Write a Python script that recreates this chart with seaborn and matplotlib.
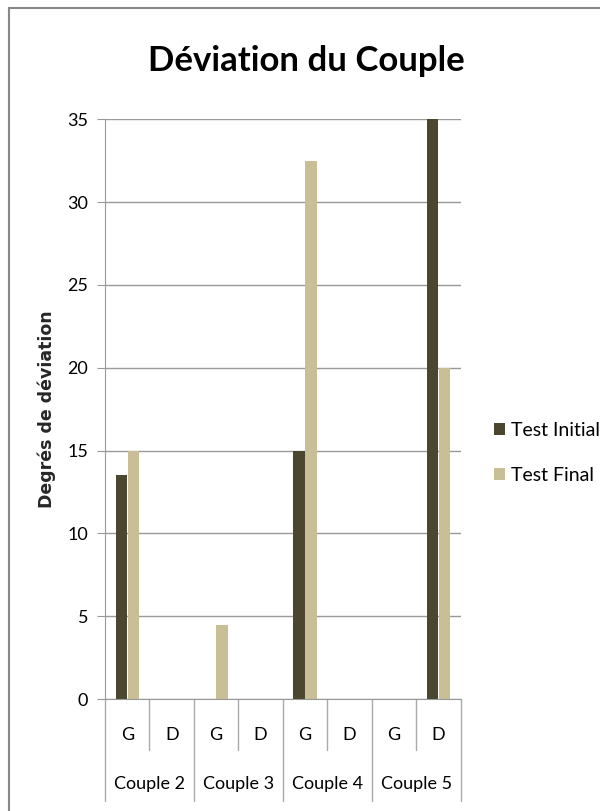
import matplotlib
matplotlib.use("Agg")
import matplotlib.pyplot as plt
import matplotlib.transforms as mtransforms
from matplotlib.patches import Rectangle
import seaborn as sns
import pandas as pd

# chart data
groups = ["Couple 2", "Couple 3", "Couple 4", "Couple 5"]
sides = ["G", "D"]
series = ["Test Initial", "Test Final"]
test_initial = [13.5, 0, 0, 0, 15, 0, 0, 35]
test_final = [15, 0, 4.5, 0, 32.5, 0, 0, 20]
colors = ["#4b4630", "#c8bf97"]

slots = [f"{g} {s}" for g in groups for s in sides]
df = pd.DataFrame({
    "slot": slots * 2,
    "serie": [series[0]] * len(slots) + [series[1]] * len(slots),
    "value": test_initial + test_final,
})

sns.set_style("white")
plt.rcParams["font.family"] = ["Lato", "DejaVu Sans"]
plt.rcParams["text.color"] = "black"
plt.rcParams["ytick.labelcolor"] = "black"

fig = plt.figure(figsize=(6, 8.11), dpi=100)
ax = fig.add_axes([0.175, 0.138, 0.593, 0.715])

sns.barplot(data=df, x="slot", y="value", hue="serie", order=slots,
            hue_order=series, palette=colors, width=0.54, gap=0.05,
            linewidth=0, saturation=1, ax=ax)

ax.set_ylim(0, 35)
ax.set_xlim(-0.5, len(slots) - 0.5)
ax.set_yticks(range(0, 36, 5))
ax.yaxis.grid(True, color="#999999", linewidth=1)
ax.set_axisbelow(True)
for side in ["top", "right"]:
    ax.spines[side].set_visible(False)
ax.spines["left"].set_color("#999999")
ax.spines["bottom"].set_color("#999999")
ax.tick_params(axis="y", left=True, length=6, color="#999999",
               labelsize=13, pad=6)
ax.set_xticks([])
ax.set_xlabel("")
ax.set_ylabel("Degrés de déviation", fontsize=12.5, fontweight="bold",
              family=["DejaVu Sans"], labelpad=8)

# two-level category axis
trans = mtransforms.blended_transform_factory(ax.transData, ax.transAxes)
for i in range(len(slots) + 1):
    x = i - 0.5
    y_end = -0.175 if i % 2 == 0 else -0.088
    ax.plot([x, x], [0, y_end], color="#aaaaaa", linewidth=1,
            transform=trans, clip_on=False)
for i, s in enumerate(slots):
    ax.text(i, -0.062, s.split()[-1], transform=trans, ha="center",
            va="center", fontsize=13)
for j, g in enumerate(groups):
    ax.text(2 * j + 0.5, -0.147, g, transform=trans, ha="center",
            va="center", fontsize=13)

ax.legend(loc="center left", bbox_to_anchor=(1.055, 0.425), frameon=False,
          fontsize=14, handlelength=0.55, handleheight=0.55,
          handletextpad=0.35, labelspacing=1.45, borderpad=0.2)

fig.text(0.51, 0.925, "Déviation du Couple", ha="center", va="center",
         fontsize=25, fontweight="bold")

fig.patches.append(Rectangle((0.015, -0.1), 1.2, 1.09, transform=fig.transFigure,
                             fill=False, edgecolor="#888888", linewidth=1.5))

fig.savefig("out.png", dpi=100)
